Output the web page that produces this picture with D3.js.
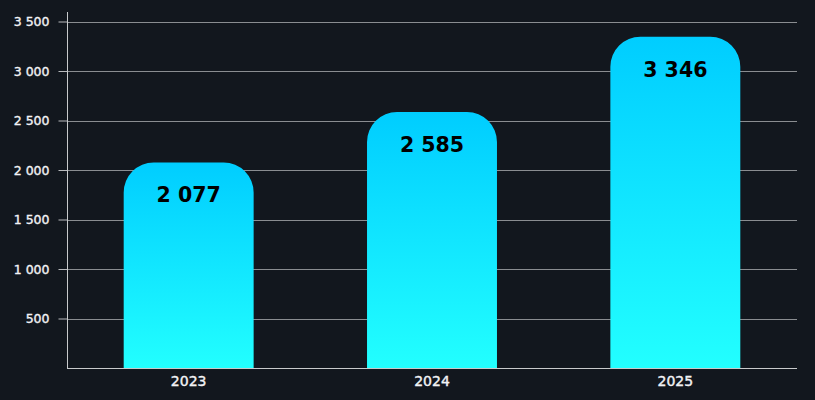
<!DOCTYPE html>
<html>
<head>
<meta charset="utf-8">
<script src="https://cdn.jsdelivr.net/npm/d3@7"></script>
<style>
  html, body { margin: 0; padding: 0; background: #12171e; }
  svg { display: block; }
</style>
</head>
<body>
<svg id="chart" width="815" height="400"></svg>
<script>
// data
var years = ["2023", "2024", "2025"];
var values = [2077, 2585, 3346];
var yTicks = [500, 1000, 1500, 2000, 2500, 3000, 3500];

var svg = d3.select("#chart"),
	width = +svg.attr("width"),
	height = +svg.attr("height"),
	margin = { top: 12, right: 18, bottom: 32, left: 67 };

var fmt = d3.formatLocale({ decimal: ",", thousands: " ", grouping: [3], currency: ["", ""] }).format(",d");

var x = d3.scaleBand()
	.domain(years)
	.range([margin.left, width - margin.right])
	.paddingInner(0.466)
	.paddingOuter(0.233);

var y = d3.scaleLinear()
	.domain([0, 3500])
	.range([height - margin.bottom, 21.5]);

// gradient for the bars
var grad = svg.append("defs").append("linearGradient")
	.attr("id", "barGrad")
	.attr("x1", 0).attr("y1", 0).attr("x2", 0).attr("y2", 1);
grad.append("stop").attr("offset", "0%").attr("stop-color", "#00cdff");
grad.append("stop").attr("offset", "100%").attr("stop-color", "#22ffff");

// grid
svg.append("g")
	.selectAll("line")
	.data(yTicks)
	.enter().append("line")
	.attr("x1", margin.left)
	.attr("x2", width - margin.right)
	.attr("y1", function(d) { return Math.round(y(d)) + 0.5; })
	.attr("y2", function(d) { return Math.round(y(d)) + 0.5; })
	.attr("stroke", "#8a8d91")
	.attr("stroke-width", 1);

// y axis
var yAxis = svg.append("g")
	.attr("transform", "translate(" + (margin.left + 0.5) + ",0)")
	.call(d3.axisLeft(y).tickValues(yTicks).tickFormat(fmt).tickSize(9).tickSizeOuter(0));
yAxis.select(".domain").remove();
yAxis.selectAll(".tick line").attr("stroke", "#b8babd");
yAxis.selectAll("text")
	.attr("fill", "#f2f3f5")
	.attr("stroke", "#f2f3f5")
	.attr("stroke-width", 0.35)
	.attr("x", -18)
	.style("font-family", "'DejaVu Sans', sans-serif")
	.style("font-size", "12.5px");

// bars: rounded top, square bottom
var r = 30;
function barPath(d, i) {
	var x0 = x(years[i]), w = x.bandwidth(), y0 = y(d), y1 = y(0);
	return "M" + x0 + "," + y1 +
		"V" + (y0 + r) +
		"A" + r + "," + r + " 0 0 1 " + (x0 + r) + "," + y0 +
		"H" + (x0 + w - r) +
		"A" + r + "," + r + " 0 0 1 " + (x0 + w) + "," + (y0 + r) +
		"V" + y1 + "Z";
}
svg.append("g")
	.selectAll("path")
	.data(values)
	.enter().append("path")
	.attr("d", barPath)
	.attr("fill", "url(#barGrad)");

// value labels
svg.append("g")
	.selectAll("text")
	.data(values)
	.enter().append("text")
	.attr("x", function(d, i) { return x(years[i]) + x.bandwidth() / 2; })
	.attr("y", function(d) { return y(d) + 40; })
	.attr("text-anchor", "middle")
	.attr("fill", "#000")
	.style("font-family", "'DejaVu Sans', sans-serif")
	.style("font-size", "20.5px")
	.style("font-weight", "700")
	.text(function(d) { return fmt(d); });

// axis lines
svg.append("line")
	.attr("x1", margin.left + 0.5).attr("x2", margin.left + 0.5)
	.attr("y1", margin.top).attr("y2", y(0))
	.attr("stroke", "#c8cacc");
svg.append("line")
	.attr("x1", margin.left).attr("x2", width - margin.right)
	.attr("y1", y(0) + 0.5).attr("y2", y(0) + 0.5)
	.attr("stroke", "#c8cacc");

// x labels
svg.append("g")
	.selectAll("text")
	.data(years)
	.enter().append("text")
	.attr("x", function(d) { return x(d) + x.bandwidth() / 2; })
	.attr("y", height - margin.bottom + 18)
	.attr("text-anchor", "middle")
	.attr("fill", "#f2f3f5")
	.attr("stroke", "#f2f3f5")
	.attr("stroke-width", 0.4)
	.style("font-family", "'DejaVu Sans', sans-serif")
	.style("font-size", "14px")
	.text(function(d) { return d; });
</script>
</body>
</html>
